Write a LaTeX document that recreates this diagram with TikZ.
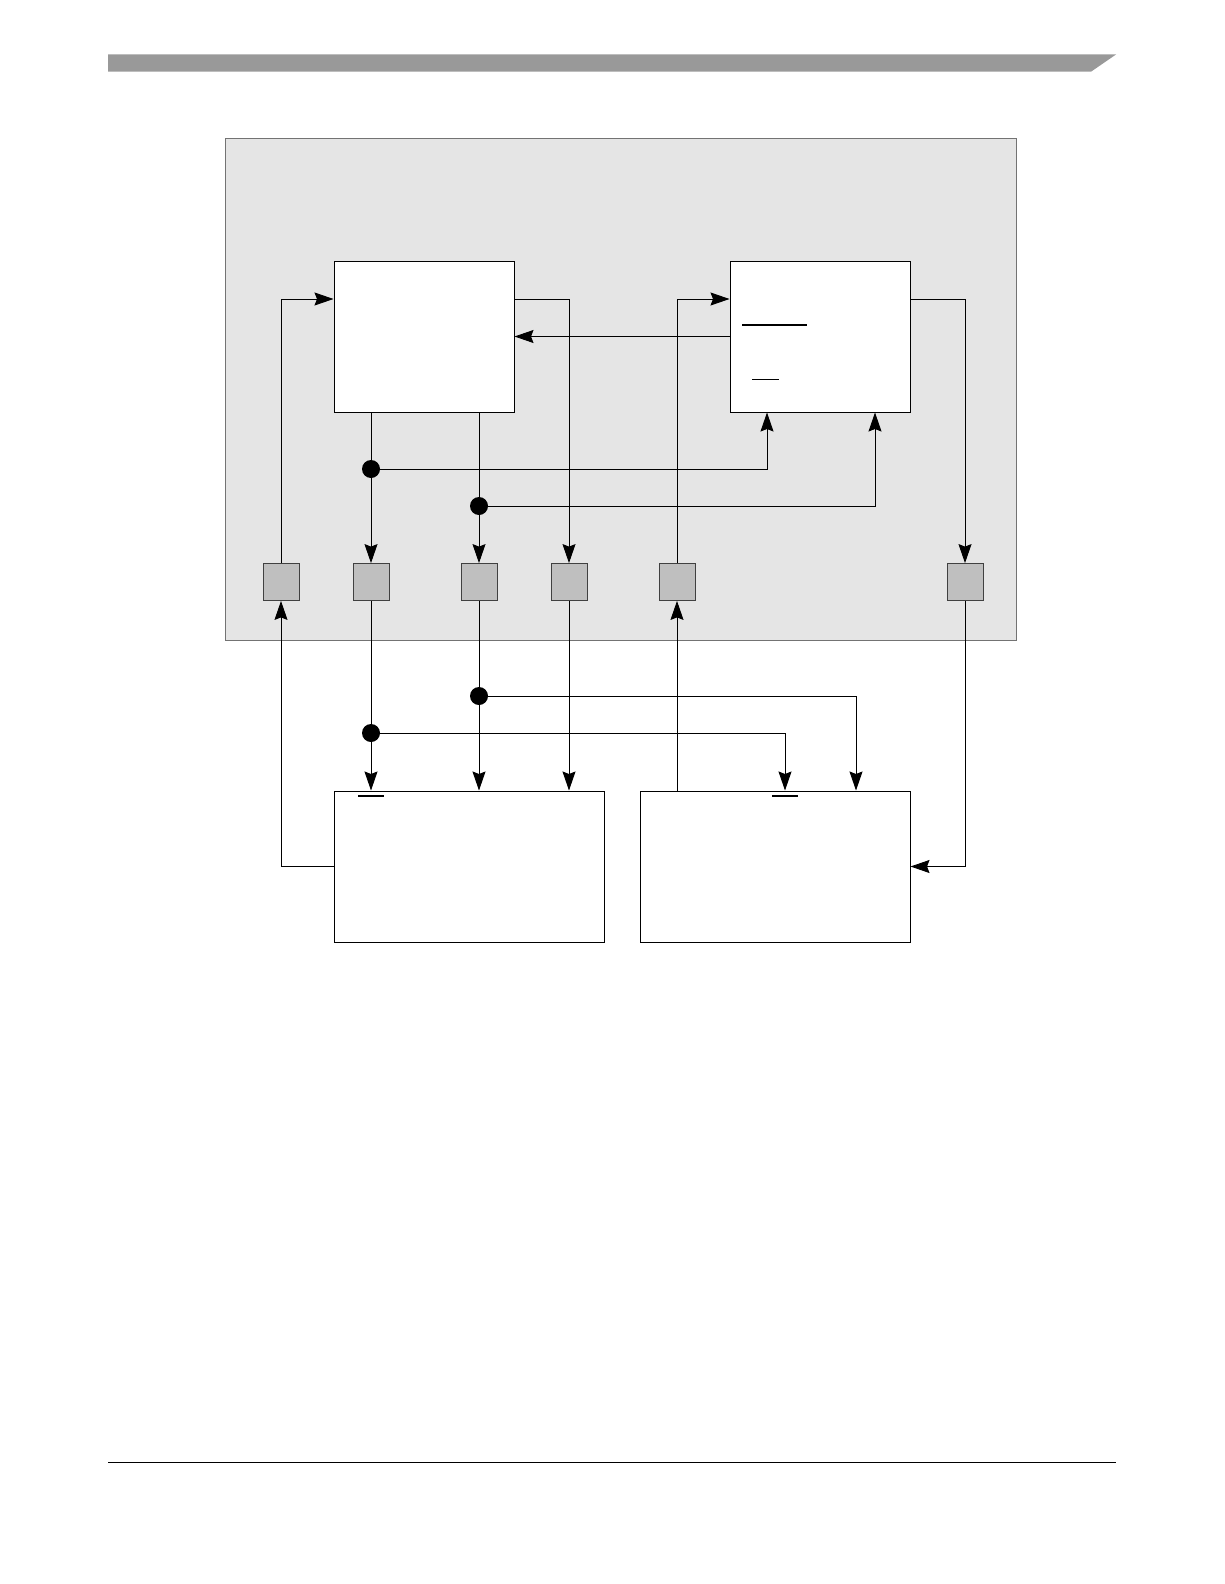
\documentclass[tikz,border=0pt]{standalone}
\usetikzlibrary{arrows.meta}
\begin{document}
\begin{tikzpicture}[x=1pt,y=-1pt,
  wire/.style={line width=0.9pt},
  arr/.style={wire,-{Stealth[length=19pt,width=13pt,inset=2.5pt]}},
  blk/.style={draw,line width=1pt,fill=white,minimum width=180pt,minimum height=151pt,inner sep=0pt},
  wblk/.style={blk,minimum width=270pt},
  pad/.style={draw=black!75,line width=0.8pt,fill=black!25,minimum width=36pt,minimum height=37pt,inner sep=0pt},
  dot/.style={circle,fill=black,minimum size=18pt,inner sep=0pt}]
\useasboundingbox (0,0) rectangle (1224,1584);
% header bar and footer line
\fill[black!40] (108,54.5) -- (1116,54.5) -- (1091,71.7) -- (108,71.7) -- cycle;
\draw[line width=0.8pt] (108,1462) -- (1116,1462);
% outer gray region
\draw[fill=black!10,draw=black!55,line width=0.8pt] (225,138) rectangle (1016,640);
% blocks
\node[blk] (tl) at (424,336.5) {};
\node[blk] (tr) at (820,336.5) {};
\node[wblk] (bl) at (469,866.5) {};
\node[wblk] (br) at (775,866.5) {};
% overline marks
\draw[line width=2pt] (742,325) -- (807,325);
\draw[line width=1pt] (752,379) -- (779,379);
\draw[line width=2pt] (358,796) -- (384,796);
\draw[line width=2pt] (772,796) -- (798,796);
% pads
\node[pad] (p1) at (281,582) {};
\node[pad] (p2) at (371,582) {};
\node[pad] (p3) at (479,582) {};
\node[pad] (p4) at (569,582) {};
\node[pad] (p5) at (677,582) {};
\node[pad] (p6) at (965,582) {};
% junction dots
\node[dot] (d1) at (371,469) {};
\node[dot] (d2) at (479,506) {};
\node[dot] (d3) at (479,696) {};
\node[dot] (d4) at (371,733) {};
% connectors in upper region
\draw[arr] (p1.north) |- (tl.west |- 0,299);
\draw[arr] (tl.east |- 0,299) -| (p4.north);
\draw[arr] (tr.west) -- (tl.east);
\draw[arr] (p5.north) |- (tr.west |- 0,299);
\draw[arr] (tr.east |- 0,299) -| (p6.north);
\draw[arr] (tl.south -| p2.north) -- (p2.north);
\draw[arr] (tl.south -| p3.north) -- (p3.north);
\draw[arr] (d1.center) -| (tr.south -| 767,0);
\draw[arr] (d2.center) -| (tr.south -| 875,0);
% connectors in lower region
\draw[arr] (bl.west |- 0,866) -| (p1.south);
\draw[arr] (p2.south) -- (bl.north -| p2.south);
\draw[arr] (p3.south) -- (bl.north -| p3.south);
\draw[arr] (p4.south) -- (bl.north -| p4.south);
\draw[arr] (br.north -| p5.south) -- (p5.south);
\draw[arr] (p6.south) |- (br.east);
\draw[arr] (d4.center) -| (br.north -| 785,0);
\draw[arr] (d3.center) -| (br.north -| 856,0);
\end{tikzpicture}
\end{document}
